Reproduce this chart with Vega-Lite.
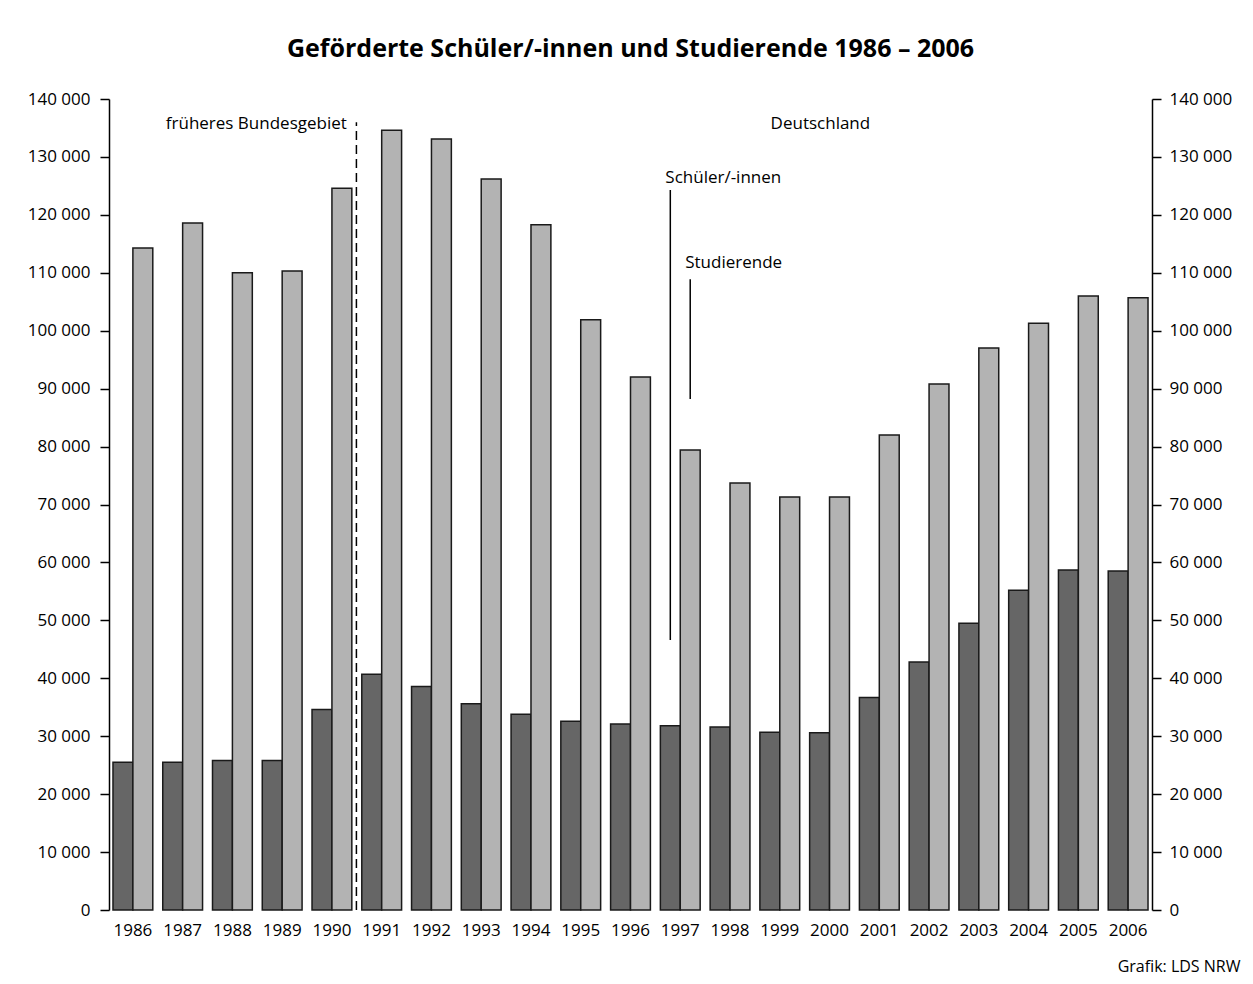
{
  "$schema": "https://vega.github.io/schema/vega-lite/v6.json",
  "autosize": {"type": "none"},
  "padding": {"left": 109, "top": 99, "right": 101, "bottom": 74},
  "width": 1043,
  "height": 811,
  "background": "white",
  "config": {
    "font": "Open Sans",
    "view": {"stroke": null},
    "axis": {"grid": false, "labelFont": "Open Sans", "labelFontSize": 17, "labelColor": "black", "titleFont": "Open Sans", "domainColor": "black", "tickColor": "black"}
  },
  "title": {
    "text": "Geförderte Schüler/-innen und Studierende 1986 – 2006",
    "font": "Open Sans",
    "fontSize": 25,
    "fontWeight": "bold",
    "color": "black",
    "anchor": "middle",
    "baseline": "alphabetic",
    "offset": 8
  },
  "datasets": {
    "bars": [
      {"year": "1986", "series": "Schüler/-innen", "value": 25500},
      {"year": "1986", "series": "Studierende", "value": 114300},
      {"year": "1987", "series": "Schüler/-innen", "value": 25500},
      {"year": "1987", "series": "Studierende", "value": 118600},
      {"year": "1988", "series": "Schüler/-innen", "value": 25800},
      {"year": "1988", "series": "Studierende", "value": 110000},
      {"year": "1989", "series": "Schüler/-innen", "value": 25800},
      {"year": "1989", "series": "Studierende", "value": 110300},
      {"year": "1990", "series": "Schüler/-innen", "value": 34600},
      {"year": "1990", "series": "Studierende", "value": 124600},
      {"year": "1991", "series": "Schüler/-innen", "value": 40700},
      {"year": "1991", "series": "Studierende", "value": 134600},
      {"year": "1992", "series": "Schüler/-innen", "value": 38600},
      {"year": "1992", "series": "Studierende", "value": 133100},
      {"year": "1993", "series": "Schüler/-innen", "value": 35600},
      {"year": "1993", "series": "Studierende", "value": 126200},
      {"year": "1994", "series": "Schüler/-innen", "value": 33800},
      {"year": "1994", "series": "Studierende", "value": 118300},
      {"year": "1995", "series": "Schüler/-innen", "value": 32600},
      {"year": "1995", "series": "Studierende", "value": 101900},
      {"year": "1996", "series": "Schüler/-innen", "value": 32100},
      {"year": "1996", "series": "Studierende", "value": 92000},
      {"year": "1997", "series": "Schüler/-innen", "value": 31800},
      {"year": "1997", "series": "Studierende", "value": 79400},
      {"year": "1998", "series": "Schüler/-innen", "value": 31600},
      {"year": "1998", "series": "Studierende", "value": 73700},
      {"year": "1999", "series": "Schüler/-innen", "value": 30700},
      {"year": "1999", "series": "Studierende", "value": 71300},
      {"year": "2000", "series": "Schüler/-innen", "value": 30600},
      {"year": "2000", "series": "Studierende", "value": 71300},
      {"year": "2001", "series": "Schüler/-innen", "value": 36700},
      {"year": "2001", "series": "Studierende", "value": 82000},
      {"year": "2002", "series": "Schüler/-innen", "value": 42800},
      {"year": "2002", "series": "Studierende", "value": 90800},
      {"year": "2003", "series": "Schüler/-innen", "value": 49500},
      {"year": "2003", "series": "Studierende", "value": 97000},
      {"year": "2004", "series": "Schüler/-innen", "value": 55200},
      {"year": "2004", "series": "Studierende", "value": 101300},
      {"year": "2005", "series": "Schüler/-innen", "value": 58700},
      {"year": "2005", "series": "Studierende", "value": 106000},
      {"year": "2006", "series": "Schüler/-innen", "value": 58500},
      {"year": "2006", "series": "Studierende", "value": 105700}
    ],
    "divider": [{"year": "1990", "value": 0, "top": 136000}],
    "leaders": [
      {"year": "1997", "series": "Schüler/-innen", "value": 46600, "top": 124300, "labely": 126300},
      {"year": "1997", "series": "Studierende", "value": 88200, "top": 108900, "labely": 111700}
    ],
    "regions": [
      {"year": "1990", "label": "früheres Bundesgebiet", "value": 135700}
    ],
    "regions2": [
      {"year": "2000", "label": "Deutschland", "value": 135700}
    ]
  },
  "resolve": {"axis": {"y": "independent"}},
  "layer": [
    {
      "data": {"name": "bars"},
      "mark": {"type": "bar", "stroke": "#1a1a1a", "strokeWidth": 1.5},
      "encoding": {
        "x": {
          "field": "year", "type": "nominal", "title": "Grafik: LDS NRW",
          "scale": {"paddingInner": 0.2, "paddingOuter": 0.08},
          "axis": {"domain": false, "ticks": false, "labelAngle": 0, "labelPadding": 12, "labelBaseline": "top",
                   "titleFontSize": 16, "titleFontWeight": "normal", "titleColor": "black",
                   "titleAnchor": "end", "titleAlign": "right", "titleX": 1131, "titleY": 56, "titleBaseline": "middle"}
        },
        "xOffset": {"field": "series", "type": "nominal", "sort": ["Schüler/-innen", "Studierende"], "scale": {"paddingInner": 0, "paddingOuter": 0}},
        "y": {
          "field": "value", "type": "quantitative", "title": null,
          "scale": {"domain": [0, 140000], "nice": false},
          "axis": {"orient": "left", "values": [0, 10000, 20000, 30000, 40000, 50000, 60000, 70000, 80000, 90000, 100000, 110000, 120000, 130000, 140000],
                   "labelExpr": "replace(format(datum.value, ','), ',', ' ')", "tickSize": 9, "labelPadding": 10, "domainWidth": 1.5, "tickWidth": 1.5}
        },
        "color": {"field": "series", "type": "nominal", "scale": {"domain": ["Schüler/-innen", "Studierende"], "range": ["#666666", "#b3b3b3"]}, "legend": null}
      }
    },
    {
      "data": {"name": "divider"},
      "mark": {"type": "rule", "strokeDash": [9, 5], "strokeWidth": 1.5, "color": "black"},
      "encoding": {
        "x": {"field": "year", "type": "nominal", "bandPosition": 1.115},
        "y": {
          "field": "value", "type": "quantitative", "title": null,
          "axis": {"orient": "right", "values": [0, 10000, 20000, 30000, 40000, 50000, 60000, 70000, 80000, 90000, 100000, 110000, 120000, 130000, 140000],
                   "labelExpr": "replace(format(datum.value, ','), ',', ' ')", "tickSize": 9, "labelPadding": 8, "domainWidth": 1.5, "tickWidth": 1.5}
        },
        "y2": {"field": "top"}
      }
    },
    {
      "data": {"name": "leaders"},
      "mark": {"type": "rule", "strokeWidth": 1.5, "color": "black"},
      "encoding": {
        "x": {"field": "year", "type": "nominal"},
        "xOffset": {"field": "series", "type": "nominal", "sort": ["Schüler/-innen", "Studierende"]},
        "y": {"field": "value", "type": "quantitative", "axis": null},
        "y2": {"field": "top"}
      }
    },
    {
      "data": {"name": "leaders"},
      "mark": {"type": "text", "align": "left", "baseline": "middle", "dx": -5, "fontSize": 17, "color": "black"},
      "encoding": {
        "x": {"field": "year", "type": "nominal"},
        "xOffset": {"field": "series", "type": "nominal", "sort": ["Schüler/-innen", "Studierende"]},
        "y": {"field": "labely", "type": "quantitative", "axis": null},
        "text": {"field": "series"}
      }
    },
    {
      "data": {"name": "regions"},
      "mark": {"type": "text", "align": "right", "baseline": "middle", "dx": -5, "fontSize": 17, "color": "black"},
      "encoding": {
        "x": {"field": "year", "type": "nominal", "bandPosition": 1},
        "y": {"field": "value", "type": "quantitative", "axis": null},
        "text": {"field": "label"}
      }
    },
    {
      "data": {"name": "regions2"},
      "mark": {"type": "text", "align": "center", "baseline": "middle", "fontSize": 17, "color": "black"},
      "encoding": {
        "x": {"field": "year", "type": "nominal", "bandPosition": 0.27},
        "y": {"field": "value", "type": "quantitative", "axis": null},
        "text": {"field": "label"}
      }
    }
  ]
}
